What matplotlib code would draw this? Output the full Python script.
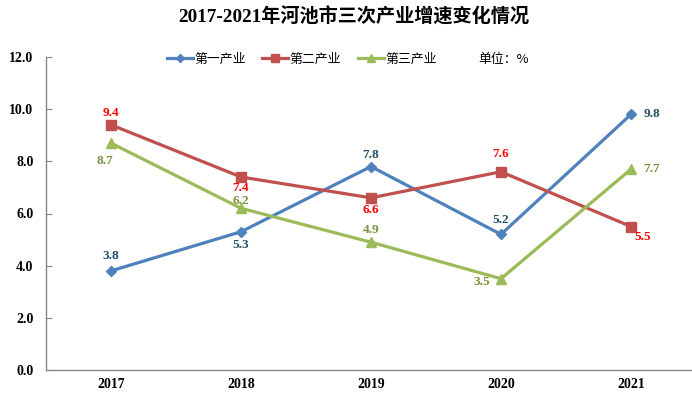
import matplotlib
matplotlib.use("Agg")
import matplotlib.pyplot as plt

years = ["2017", "2018", "2019", "2020", "2021"]
primary = [3.8, 5.3, 7.8, 5.2, 9.8]
secondary = [9.4, 7.4, 6.6, 7.6, 5.5]
tertiary = [8.7, 6.2, 4.9, 3.5, 7.7]
series_names = ["第一产业", "第二产业", "第三产业"]
title = "2017-2021年河池市三次产业增速变化情况"
unit_text = "单位：%"

serif = ["Liberation Serif", "Noto Sans CJK SC"]
cjk = ["Noto Sans CJK SC", "DejaVu Sans"]

fig = plt.figure(figsize=(6.92, 3.95), dpi=100)
ax = fig.add_axes([46/692, 25/395, 650/692, (370-57)/395])

x = list(range(len(years)))
line_cols = ["#4F81BD", "#C0504D", "#9BBB59"]
lab_cols = ["#1F5068", "#FF0000", "#77933C"]
markers = ["D", "s", "^"]
msizes = [5, 6.5, 7]
data = [primary, secondary, tertiary]

handles = []
for d, lc, m, ms, name in zip(data, line_cols, markers, msizes, series_names):
    h, = ax.plot(x, d, color=lc, lw=2.3, marker=m, markersize=ms, label=name, zorder=3)
    handles.append(h)

# offsets in pixels (dx, dy), dy positive = up
offsets = [
    [(0, 15), (0, -13), (0, 12), (0, 14), (21, 0)],
    [(0, 12), (0, -11), (0, -12), (0, 18), (12, -10)],
    [(-6, -18), (0, 7), (0, 12), (-19, -3), (21, 0)],
]
for d, col, offs in zip(data, lab_cols, offsets):
    for xi, v, (dx, dy) in zip(x, d, offs):
        ax.annotate(f"{v:.1f}", (xi, v), xytext=(dx, dy), textcoords="offset pixels",
                    ha="center", va="center", color=col, fontsize=9.5,
                    fontweight="bold", family=serif, zorder=4)

ax.set_xlim(-0.5, 4.5)
ax.set_ylim(0, 12)
ax.set_yticks([0, 2, 4, 6, 8, 10, 12])
ax.set_yticklabels([f"{v:.1f}" for v in [0, 2, 4, 6, 8, 10, 12]],
                   fontsize=10, fontweight="bold", family=serif)
ax.set_xticks(x)
ax.set_xticklabels(years, fontsize=10, fontweight="bold", family=serif)
ax.tick_params(axis="x", length=0, pad=6)
ax.tick_params(axis="y", length=4, direction="in", color="#888888", pad=9)
for s in ["top", "right"]:
    ax.spines[s].set_visible(False)
for s in ["left", "bottom"]:
    ax.spines[s].set_color("#888888")
    ax.spines[s].set_linewidth(1)

fig.text(354/692, 1 - 17/395, title, ha="center", va="center", fontsize=13.8,
         fontweight="bold", family=serif)

leg = fig.legend(handles=handles, labels=series_names, loc="center left",
                 bbox_to_anchor=(167/692, 1 - 59/395), ncol=3, frameon=False,
                 prop={"family": cjk, "size": 9.3}, handlelength=2.0,
                 columnspacing=1.3, handletextpad=0.1, borderpad=0, borderaxespad=0,
                 markerscale=0.8)
fig.text(478/692, 1 - 59/395, unit_text, ha="left", va="center", fontsize=9.3,
         family=cjk)

fig.savefig("out.png", dpi=100)
